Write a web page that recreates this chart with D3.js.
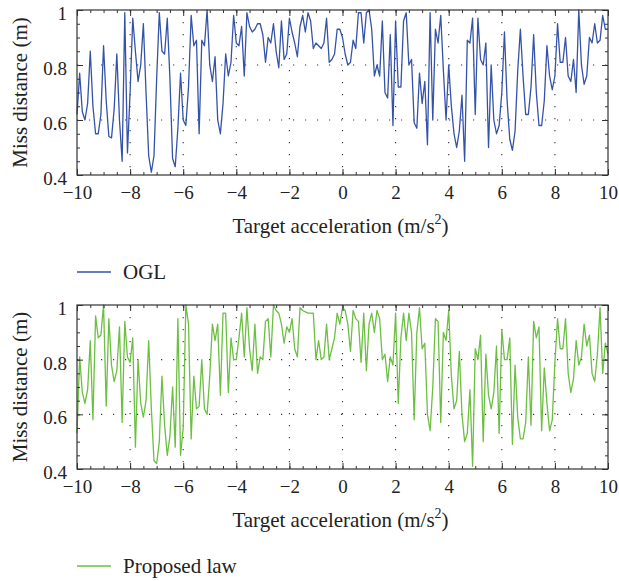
<!DOCTYPE html>
<html>
<head>
<meta charset="utf-8">
<script src="https://cdn.jsdelivr.net/npm/d3@7"></script>
<style>
  html, body { margin: 0; padding: 0; background: #fff; }
  svg { display: block; }
  text { font-family: "Liberation Serif", "Times New Roman", "DejaVu Serif", serif; fill: #222; }
</style>
</head>
<body>
<svg id="chart" width="619" height="581"></svg>
<script>
// Target acceleration samples, -10 .. 10 m/s^2 in steps of 0.1
const accel = d3.range(201).map(i => Math.round((-10 + i * 0.1) * 10) / 10);

// Miss distance (m) with the OGL guidance law
const oglMiss = [
  0.62,0.77,0.63,0.60,0.66,0.85,0.65,0.55,0.55,0.62,
  0.87,0.67,0.54,0.535,0.64,0.84,0.60,0.45,0.99,0.48,
  0.70,0.97,0.85,0.74,0.80,0.95,0.70,0.47,0.41,0.47,
  0.75,0.99,0.85,0.84,0.97,0.75,0.46,0.43,0.57,0.77,
  0.60,0.58,0.72,0.98,0.87,0.89,0.55,0.89,0.87,1.00,
  0.80,0.74,0.83,0.60,0.55,0.66,0.84,0.76,0.81,0.98,
  0.88,0.87,0.94,0.76,0.99,0.94,0.92,0.93,0.95,0.95,
  0.91,0.81,0.90,0.88,0.95,0.85,0.79,0.96,0.82,0.84,
  0.97,0.92,0.88,0.83,0.94,0.98,0.92,0.99,0.96,0.86,
  0.88,0.87,0.86,0.88,0.97,0.81,0.82,0.84,0.93,0.93,
  0.90,0.84,0.80,0.81,0.89,0.86,0.99,0.99,0.88,0.99,
  1.00,0.93,0.76,0.80,0.76,0.96,0.70,0.68,0.91,0.58,
  0.96,0.72,0.72,0.96,0.99,0.80,0.82,0.59,0.57,0.77,
  0.66,0.74,0.51,0.99,0.60,0.93,0.88,0.98,0.78,0.60,
  0.80,0.65,0.55,0.50,0.56,0.69,0.45,0.89,0.88,0.97,
  0.62,0.97,0.82,0.80,0.88,0.50,0.80,0.60,0.55,0.58,
  0.70,0.92,0.67,0.53,0.49,0.56,0.78,0.93,0.76,0.62,
  0.62,0.72,0.91,0.70,0.58,0.58,0.67,0.87,0.76,0.71,
  0.76,0.95,0.81,0.81,0.90,0.76,0.74,0.82,0.70,1.00,
  0.80,0.73,0.76,0.90,0.88,0.95,0.88,0.89,0.98,0.93,
  0.93
];

// Miss distance (m) with the proposed guidance law
const proposedMiss = [
  0.53,0.81,0.68,0.64,0.69,0.87,0.58,0.96,0.88,0.89,
  1.00,0.63,0.95,0.78,0.72,0.76,0.92,0.57,0.94,0.81,
  0.79,0.88,0.48,0.80,0.64,0.59,0.65,0.87,0.62,0.43,
  0.42,0.50,0.74,0.56,0.45,0.52,0.70,0.48,0.95,0.45,
  0.55,1.00,0.93,0.51,0.74,0.62,0.63,0.80,0.62,0.60,
  0.74,0.93,0.87,0.93,0.67,0.97,0.97,0.68,0.88,0.80,
  0.80,0.88,0.97,0.81,0.99,0.84,0.76,0.93,0.75,0.81,
  0.80,0.94,0.95,0.81,1.00,0.98,0.97,0.93,0.86,0.92,
  0.90,0.95,0.84,0.81,0.99,0.98,0.975,0.97,0.97,0.97,
  0.80,0.87,0.80,0.81,0.93,0.80,0.84,0.88,0.97,0.93,
  0.99,0.98,0.93,0.83,0.98,0.95,0.94,0.79,0.97,0.76,
  0.93,0.97,0.90,0.98,0.95,0.80,0.82,0.72,0.81,0.78,
  0.97,0.64,0.88,0.97,0.87,0.97,0.90,0.58,0.90,0.99,
  0.84,0.86,0.60,0.54,0.70,0.95,0.94,0.57,0.90,0.87,
  0.98,0.74,0.62,0.65,0.83,0.60,0.50,0.53,0.69,0.41,
  0.84,0.80,0.89,0.50,0.82,0.67,0.62,0.68,0.85,0.53,
  0.91,0.80,0.80,0.88,0.49,0.78,0.59,0.51,0.51,0.57,
  0.81,0.56,0.94,0.88,0.92,0.54,0.77,0.64,0.54,0.58,
  0.79,0.95,0.84,0.84,0.95,0.75,0.68,0.73,0.87,0.78,
  0.81,0.93,0.85,0.89,0.75,0.72,0.82,0.99,0.75,0.86,
  0.82
];

const xTicks = [-10, -8, -6, -4, -2, 0, 2, 4, 6, 8, 10];
const yTicks = [0.4, 0.6, 0.8, 1];
const xMinor = d3.range(-10, 10.01, 0.5);
const yMinor = d3.range(0.4, 1.001, 0.05);

const panels = [
  { values: oglMiss, color: "#3452a8", legend: "OGL", top: 10, bottom: 175, xLabelY: 233, legendY: 272 },
  { values: proposedMiss, color: "#6cbf42", legend: "Proposed law", top: 305, bottom: 469, xLabelY: 527, legendY: 566 }
];

const svg = d3.select("#chart");
const left = 77, right = 608;
const x = d3.scaleLinear().domain([-10, 10]).range([left, right]);
const fmtX = d3.format("d");
const fmtY = v => (v === 1 ? "1" : d3.format(".1f")(v));
const tickFont = 19, titleFont = 21;
const serif = '"Liberation Serif", "Times New Roman", "DejaVu Serif", serif';

panels.forEach(p => {
  const y = d3.scaleLinear().domain([0.4, 1]).range([p.bottom, p.top]);
  const g = svg.append("g");

  // dotted grid at interior major ticks
  g.append("g").selectAll("line").data(xTicks.slice(1, -1)).join("line")
    .attr("x1", d => x(d)).attr("x2", d => x(d))
    .attr("y1", p.top).attr("y2", p.bottom)
    .attr("stroke", "#333").attr("stroke-width", 1.1)
    .attr("stroke-dasharray", "1.2,10.8");
  g.append("g").selectAll("line").data(yTicks.slice(1, -1)).join("line")
    .attr("x1", left).attr("x2", right)
    .attr("y1", d => y(d)).attr("y2", d => y(d))
    .attr("stroke", "#333").attr("stroke-width", 1.1)
    .attr("stroke-dasharray", "1.2,10.8");

  // data line
  const line = d3.line().x((d, i) => x(accel[i])).y(d => y(d));
  g.append("path").datum(p.values)
    .attr("fill", "none").attr("stroke", p.color)
    .attr("stroke-width", 1.3).attr("stroke-linejoin", "round")
    .attr("d", line);

  // minor ticks on all four sides
  const minorStyle = sel => { sel.select(".domain").remove(); sel.selectAll("line").attr("stroke", "#333"); sel.selectAll("text").remove(); };
  g.append("g").attr("transform", `translate(0,${p.bottom})`)
    .call(d3.axisBottom(x).tickValues(xMinor).tickSize(-3).tickFormat("")).call(minorStyle);
  g.append("g").attr("transform", `translate(0,${p.top})`)
    .call(d3.axisTop(x).tickValues(xMinor).tickSize(-3).tickFormat("")).call(minorStyle);
  g.append("g").attr("transform", `translate(${left},0)`)
    .call(d3.axisLeft(y).tickValues(yMinor).tickSize(-3).tickFormat("")).call(minorStyle);
  g.append("g").attr("transform", `translate(${right},0)`)
    .call(d3.axisRight(y).tickValues(yMinor).tickSize(-3).tickFormat("")).call(minorStyle);

  // major ticks with labels
  const majorStyle = sel => {
    sel.select(".domain").remove();
    sel.selectAll("line").attr("stroke", "#333");
    sel.selectAll("text").style("font-family", serif)
      .style("font-size", tickFont + "px").attr("fill", "#222");
  };
  g.append("g").attr("transform", `translate(0,${p.bottom})`)
    .call(d3.axisBottom(x).tickValues(xTicks).tickSize(-6).tickPadding(11).tickFormat(fmtX)).call(majorStyle);
  g.append("g").attr("transform", `translate(0,${p.top})`)
    .call(d3.axisTop(x).tickValues(xTicks).tickSize(-6).tickFormat("")).call(majorStyle);
  g.append("g").attr("transform", `translate(${left},0)`)
    .call(d3.axisLeft(y).tickValues(yTicks).tickSize(-6).tickPadding(10).tickFormat(fmtY)).call(majorStyle)
    .selectAll("text").attr("dy", "0.5em");
  g.append("g").attr("transform", `translate(${right},0)`)
    .call(d3.axisRight(y).tickValues(yTicks).tickSize(-6).tickFormat("")).call(majorStyle);

  // frame
  g.append("rect").attr("x", left).attr("y", p.top)
    .attr("width", right - left).attr("height", p.bottom - p.top)
    .attr("fill", "none").attr("stroke", "#333").attr("stroke-width", 1.2);

  // axis titles
  g.append("text")
    .attr("transform", `translate(27,${(p.top + p.bottom) / 2}) rotate(-90)`)
    .attr("text-anchor", "middle").attr("font-size", titleFont)
    .text("Miss distance (m)");
  const xl = g.append("text").attr("x", (left + right) / 2 - 2).attr("y", p.xLabelY)
    .attr("text-anchor", "middle").attr("font-size", titleFont);
  xl.append("tspan").text("Target acceleration (m/s");
  xl.append("tspan").attr("dy", -9).attr("font-size", 14).text("2");
  xl.append("tspan").attr("dy", 9).text(")");

  // legend
  g.append("line").attr("x1", 77).attr("x2", 111)
    .attr("y1", p.legendY).attr("y2", p.legendY)
    .attr("stroke", p.color).attr("stroke-width", 1.3);
  g.append("text").attr("x", 123).attr("y", p.legendY + 7)
    .attr("font-size", titleFont).text(p.legend);
});
</script>
</body>
</html>
